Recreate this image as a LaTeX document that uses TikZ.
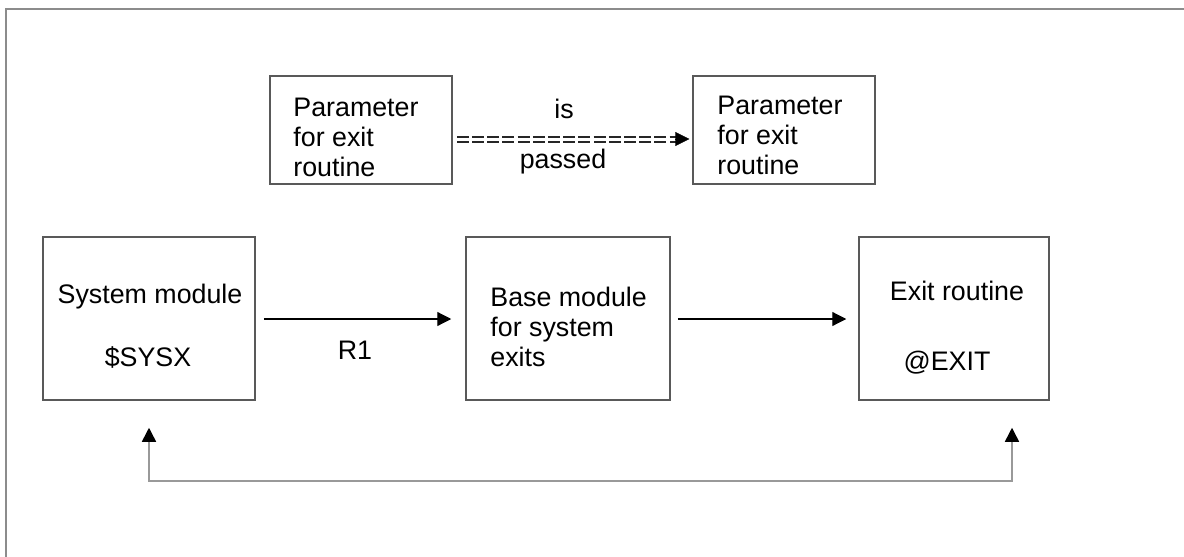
\documentclass[tikz,border=0pt]{standalone}
\usepackage{fontspec}
\setmainfont{Liberation Sans}
\usetikzlibrary{arrows.meta,calc}
\begin{document}
\begin{tikzpicture}[x=0.5pt,y=-0.5pt,
  every node/.style={font=\fontsize{13.4}{15}\selectfont, inner sep=0pt},
  box/.style={draw=black!65, line width=0.75pt, minimum width=#1, fill=none},
  txt/.style={align=left, anchor=west},
  tip/.style={-{Triangle[length=7pt,width=7pt]}},
  flow/.style={tip, line width=0.6pt, black},
  back/.style={draw=black!40, line width=0.75pt},
  eqline/.style={line width=1pt, double=white, double distance=1.5pt, dash pattern=on 6pt off 1.6pt, draw=black!85}
]
\useasboundingbox (0,0) rectangle (1184,557);
% outer frame (only top and left visible)
\draw[draw=black!45, line width=0.9pt] (6,557) -- (6,9) -- (1184,9);

% top boxes
\node[box=91pt, minimum height=54pt] (p1) at (361,130) {};
\node[box=91pt, minimum height=54pt] (p2) at (784,130) {};
\node[txt] (p1t) at (293,137) {Parameter\\for exit\\routine};
\node[txt] (p2t) at (717,135) {Parameter\\for exit\\routine};

% "is passed" double dashed arrow
\coordinate (d0) at ($(p1.east)+(4,9)$);
\coordinate (d1) at ($(p2.west)+(-16,9)$);
\coordinate (d2) at ($(p2.west)+(-3,9)$);
\draw[eqline] (d0) -- (d1);
\draw[tip, line width=0.1pt] ($(d1)+(-1,0)$) -- (d2);
\node (is) at (564,109) {is};
\node (passed) at (563,162) {passed};

% main row boxes
\node[box=106pt, minimum height=81.5pt] (sys) at (149,318.5) {};
\node[box=102pt, minimum height=81.5pt] (base) at (568,318.5) {};
\node[box=95pt, minimum height=81.5pt] (exitr) at (954,318.5) {};

\node (s1) at (150,297) {System module};
\node (s2) at (148,358) {\$SYSX};
\node[txt] (bt) at (490,327) {Base module\\for system\\exits};
\node (e1) at (957,291) {Exit routine};
\node (e2) at (947,363) {@EXIT};

% horizontal arrows
\draw[flow, shorten <=4pt, shorten >=7pt] (sys.east |- 0,319) -- (base.west |- 0,319);
\node (r1) at (355,350) {R1};
\draw[flow, shorten <=3.5pt, shorten >=6pt] (base.east |- 0,319) -- (exitr.west |- 0,319);

% return connector
\coordinate (bl) at ($(sys.south)+(0,80)$);
\coordinate (ex) at ($(exitr.south)+(58,0)$);
\coordinate (br) at ($(ex)+(0,80)$);
\draw[back, {Triangle[length=7pt,width=7pt,color=black]}-{Triangle[length=7pt,width=7pt,color=black]}, shorten <=13.5pt, shorten >=13.5pt] (sys.south) -- (bl) -- (br) -- (ex);
\end{tikzpicture}
\end{document}
